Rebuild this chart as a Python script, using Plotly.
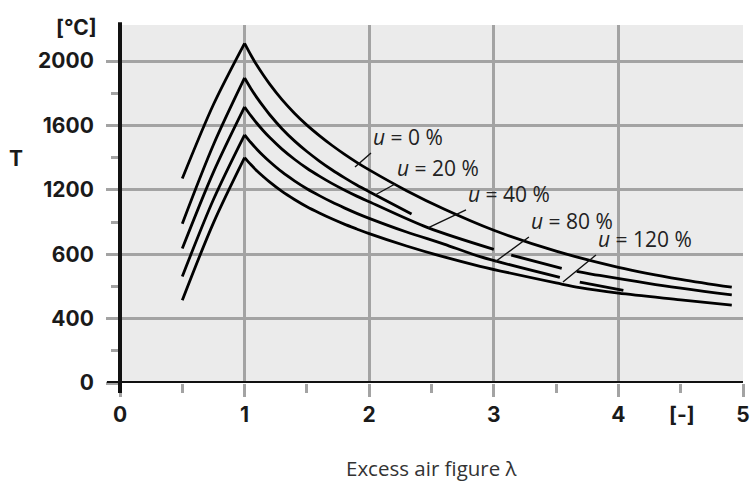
import plotly.graph_objects as go

# ---- data ----
u0_lam = [0.5, 0.75, 1.0, None, 1.0, 1.05, 1.1, 1.15, 1.2, 1.3, 1.4, 1.5, 1.6, 1.7, 1.8, 1.9, 2.0,
          2.3, 2.6, 3.0, 3.5, 4.0, 4.5, 4.91]
u0_T = [1270, 1730, 2110, None, 2110, 2038, 1972, 1913, 1858, 1760, 1676, 1602, 1537, 1477, 1422, 1371, 1324,
        1195, 1081, 949, 819, 719, 644, 595]

u20_lam = [0.5, 0.75, 1.0, None, 1.0, 1.05, 1.1, 1.15, 1.2, 1.3, 1.4, 1.5, 1.6, 1.7, 1.8, 1.9, 2.0, 2.34]
u20_T = [990, 1480, 1895, None, 1895, 1830, 1771, 1718, 1668, 1580, 1504, 1438, 1379, 1325, 1276, 1230, 1188, 1050]

u40_lam = [0.5, 0.75, 1.0, None, 1.0, 1.05, 1.1, 1.15, 1.2, 1.3, 1.4, 1.5, 1.6, 1.7, 1.8, 1.9, 2.0, 2.47, 3.0, None,
           3.14, 3.545, None, 3.665, 3.85, 4.25, 4.91]
u40_T = [835, 1310, 1715, None, 1715, 1661, 1612, 1567, 1526, 1453, 1390, 1334, 1285, 1240, 1199, 1161, 1126, 965, 830, None,
         795, 712, None, 694, 668, 618, 547]

u80_lam = [0.5, 0.75, 1.0, None, 1.0, 1.05, 1.1, 1.15, 1.2, 1.3, 1.4, 1.5, 1.6, 1.7, 1.8, 1.9, 2.0,
           2.3, 2.6, 2.89, 3.53, None, 3.69, 4.04]
u80_T = [662, 1140, 1542, None, 1542, 1494, 1451, 1412, 1376, 1311, 1256, 1207, 1164, 1124, 1088, 1054, 1023,
         938, 863, 785, 656, None, 627, 575]

u120_lam = [0.5, 0.75, 1.0, None, 1.0, 1.05, 1.1, 1.15, 1.2, 1.3, 1.4, 1.5, 1.6, 1.7, 1.8, 1.9, 2.0,
            2.3, 2.6, 2.89, 3.5, 3.69, 4.0, 4.5, 4.91]
u120_T = [514, 995, 1400, None, 1400, 1357, 1317, 1282, 1249, 1190, 1140, 1095, 1056, 1020, 987, 957, 928,
          851, 783, 725, 622, 592, 558, 517, 484]

series = [(u0_lam, u0_T), (u20_lam, u20_T), (u40_lam, u40_T), (u80_lam, u80_T), (u120_lam, u120_T)]

x_tickvals = [0, 1, 2, 3, 4, 5]
x_minor = [0.5, 1.5, 2.5, 3.5, 4.5]
y_tickvals = [0, 400, 800, 1200, 1600, 2000]
y_ticktext = ["0", "400", "600", "1200", "1600", "2000"]
y_minor = [200, 600, 1000, 1400, 1800]

label_text = ["<i>u</i> = 0 %", "<i>u</i> = 20 %", "<i>u</i> = 40 %", "<i>u</i> = 80 %", "<i>u</i> = 120 %"]
label_lam = [1.886, 2.047, 2.472, 3.009, 3.555]
label_T = [1342, 1168, 963, 752, 627]
label_dx = [16, 20, 38, 34, 33]
label_dy = [-14, -11, -18, -25, -27]

GRID = "#a3a3a3"
TICKFONT = dict(family="Inter", size=21, color="#1a1a1a", weight=700)

fig = go.Figure()
for lam, T in series:
    fig.add_trace(go.Scatter(x=lam, y=T, mode="lines", connectgaps=False,
                             line=dict(color="black", width=2.8, shape="spline", smoothing=0.9),
                             hoverinfo="skip"))

fig.update_layout(
    width=755, height=486,
    margin=dict(l=120, r=12, t=25, b=103, autoexpand=False),
    paper_bgcolor="white", plot_bgcolor="#ebebeb",
    showlegend=False,
)
fig.update_xaxes(
    range=[0, 5], tickvals=x_tickvals, showgrid=True, gridcolor=GRID, gridwidth=2.5,
    ticks="outside", ticklen=13, tickwidth=2.5, tickcolor=GRID, tickfont=TICKFONT,
    zeroline=False, showline=False, automargin=False,
    minor=dict(tickvals=x_minor, ticks="outside", ticklen=9, tickwidth=3, tickcolor=GRID, showgrid=False),
)
fig.update_yaxes(
    range=[0, 2224], tickvals=y_tickvals, ticktext=y_ticktext, showgrid=True, gridcolor=GRID, gridwidth=2.5,
    ticks="outside", ticklen=13, tickwidth=2.5, tickcolor=GRID, tickfont=TICKFONT,
    zeroline=False, showline=False, automargin=False, ticklabelstandoff=8,
    minor=dict(tickvals=y_minor, ticks="outside", ticklen=8, tickwidth=3, tickcolor=GRID, showgrid=False),
)

# axis lines (extend slightly past the plotting area like the reference)
fig.add_shape(type="line", xref="paper", yref="y", x0=-0.021, x1=1, y0=0, y1=0,
              line=dict(color="#111", width=4), layer="above")
fig.add_shape(type="line", xref="paper", yref="paper", x0=0, x1=0, y0=-0.028, y1=1.008,
              line=dict(color="#111", width=4), layer="above")

ann = []
ann.append(dict(text="T", xref="paper", yref="paper", x=-0.167, y=0.628, showarrow=False,
                font=TICKFONT, xanchor="center", yanchor="middle"))
ann.append(dict(text="[°C]", xref="paper", yref="paper", x=-0.0706, y=0.994, showarrow=False,
                font=TICKFONT, xanchor="center", yanchor="middle"))
ann.append(dict(text="[-]", xref="x", yref="paper", x=4.51, y=-0.089, showarrow=False,
                font=TICKFONT, xanchor="center", yanchor="middle"))
ann.append(dict(text="Excess air figure λ", xref="paper", yref="paper", x=0.5, y=-0.237, showarrow=False,
                font=dict(family="Open Sans", size=20.5, color="#333"), xanchor="center", yanchor="middle"))
for t, lx, ly, dx, dy in zip(label_text, label_lam, label_T, label_dx, label_dy):
    ann.append(dict(text=t, x=lx, y=ly, xref="x", yref="y", ax=dx, ay=dy,
                    showarrow=True, arrowhead=0, arrowwidth=1.4, arrowcolor="#111",
                    xanchor="left", yanchor="bottom", standoff=0,
                    font=dict(family="Open Sans", size=21, color="#222")))
fig.update_layout(annotations=ann)

fig.write_html("out.html", config={"displayModeBar": False})

# remove the default page margin so the figure sits at the window's top-left corner
with open("out.html", "r", encoding="utf-8") as f:
    html = f.read()
html = html.replace("<head>", "<head><style>html,body{margin:0;padding:0;overflow:hidden;}</style>", 1)
with open("out.html", "w", encoding="utf-8") as f:
    f.write(html)
